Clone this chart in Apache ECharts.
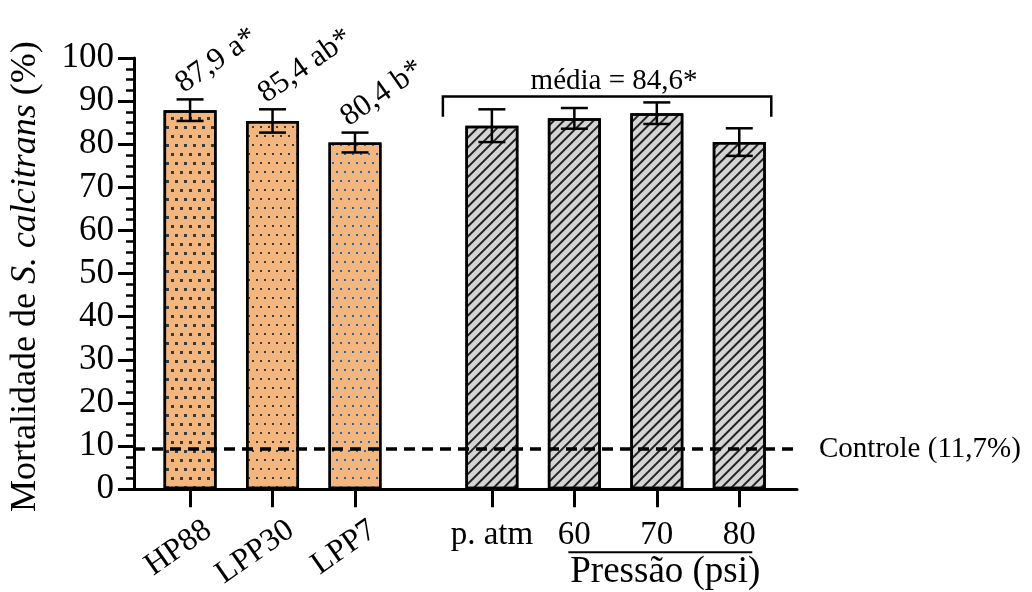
<!DOCTYPE html>
<html>
<head>
<meta charset="utf-8">
<script src="https://cdn.jsdelivr.net/npm/echarts@6/dist/echarts.min.js"></script>
<style>
  html, body { margin: 0; background: #fff; }
  #chart { width: 1032px; height: 592px; }
</style>
</head>
<body>
<div id="chart"></div>
<script>
// dados
const categories = ['HP88', 'LPP30', 'LPP7', 'p. atm', '60', '70', '80'];
const mortality = [87.9, 85.4, 80.4, 84.3, 86.0, 87.2, 80.5];
const errors = [2.5, 2.7, 2.3, 3.8, 2.4, 2.5, 3.2];
const barLabels = ['87,9 a*', '85,4 ab*', '80,4 b*'];
const controlLevel = 9.3;
const controlLabel = 'Controle (11,7%)';
const meanLabel = 'média = 84,6*';
const pressureTitle = 'Pressão (psi)';

const FONT = 'Liberation Serif';
const groupGap = 0.66;           // espaço extra entre os dois grupos
const labelShift = 0.22;          // deslocamento dos rótulos girados
const xPos = categories.map((c, i) => i + (i >= 3 ? groupGap : 0));

const orange = '#F2B67E';
const grey = '#D4D4D4';
const dots = (color, size) => ({
  symbol: 'rect', symbolSize: 1, color: color,
  dashArrayX: [[size, 8 - size], [0, 4, size, 4 - size]],
  dashArrayY: [size, 8.5 - size]
});
const hatch = {
  symbol: 'rect', symbolSize: 1, color: '#222',
  dashArrayX: [1, 0], dashArrayY: [2, 5], rotation: -Math.PI / 4
};
const barStyles = [
  { color: orange, decal: dots('#3a3a3a', 2.5) },
  { color: orange, decal: dots('#3a3a3a', 2) },
  { color: orange, decal: dots('#2f64a0', 2) },
  { color: grey, decal: hatch },
  { color: grey, decal: hatch },
  { color: grey, decal: hatch },
  { color: grey, decal: hatch }
];

const indexAt = (v, list) => list.findIndex(p => Math.abs(p - v) < 0.01);

const chart = echarts.init(document.getElementById('chart'));

const option = {
  animation: false,
  textStyle: { fontFamily: FONT },
  grid: { left: 134, right: 235, top: 58, bottom: 102 },
  xAxis: [
    {
      type: 'value', min: -0.68, max: 7.36,
      splitLine: { show: false },
      axisLine: { show: true, onZero: false, lineStyle: { color: '#000', width: 3 } },
      axisTick: { show: true, customValues: xPos, length: 18, lineStyle: { color: '#000', width: 3 } },
      axisLabel: {
        customValues: xPos.slice(0, 3).map(x => x + labelShift),
        rotate: 35, margin: 38, fontSize: 32, fontFamily: FONT, color: '#000',
        formatter: v => categories[indexAt(v, xPos.map(x => x + labelShift))] || ''
      }
    },
    {
      type: 'value', min: -0.68, max: 7.36, position: 'bottom',
      splitLine: { show: false },
      axisLine: { show: false, onZero: false },
      axisTick: { show: false },
      axisLabel: {
        customValues: xPos.slice(3),
        margin: 30, fontSize: 33, fontFamily: FONT, color: '#000',
        formatter: v => categories[indexAt(v, xPos)] || ''
      }
    }
  ],
  yAxis: {
    type: 'value', min: 0, max: 100, interval: 10,
    splitLine: { show: false },
    axisLine: { show: true, onZero: false, lineStyle: { color: '#000', width: 3 } },
    axisTick: { show: true, length: 16, lineStyle: { color: '#000', width: 3 } },
    minorTick: { show: true, splitNumber: 4, length: 8, lineStyle: { color: '#000', width: 2.5 } },
    axisLabel: { margin: 20, fontSize: 35, fontFamily: FONT, color: '#000' },
    name: 'Mortalidade de {i|S. calcitrans} (%)',
    nameLocation: 'middle', nameGap: 90,
    nameTextStyle: {
      fontSize: 36, fontFamily: FONT, color: '#000', padding: [0, 6, 0, 0],
      rich: { i: { fontSize: 36, fontFamily: FONT, fontStyle: 'italic', color: '#000' } }
    }
  },
  series: [
    {
      type: 'bar',
      barWidth: 53,
      data: xPos.map((x, i) => ({
        value: [x, mortality[i]],
        itemStyle: Object.assign({ borderColor: '#000', borderWidth: 2.5 }, barStyles[i])
      })),
      markLine: {
        silent: true, symbol: ['none', 'none'], z: 10,
        lineStyle: { color: '#000', width: 3.5, type: [11, 7] },
        label: {
          show: true, position: 'end', distance: 22, formatter: controlLabel,
          fontSize: 29, fontFamily: FONT, color: '#000'
        },
        data: [{ yAxis: controlLevel }]
      }
    },
    {
      // barras de erro
      type: 'custom',
      z: 5,
      encode: { x: 0, y: 1 },
      data: xPos.map((x, i) => [x, mortality[i], errors[i]]),
      renderItem: (params, api) => {
        const x = api.value(0), v = api.value(1), e = api.value(2);
        const hi = api.coord([x, v + e]);
        const lo = api.coord([x, v - e]);
        const cap = 13.5;
        const style = { stroke: '#000', lineWidth: 2.5 };
        return {
          type: 'group',
          children: [
            { type: 'line', shape: { x1: hi[0], y1: hi[1], x2: lo[0], y2: lo[1] }, style },
            { type: 'line', shape: { x1: hi[0] - cap, y1: hi[1], x2: hi[0] + cap, y2: hi[1] }, style },
            { type: 'line', shape: { x1: lo[0] - cap, y1: lo[1], x2: lo[0] + cap, y2: lo[1] }, style }
          ]
        };
      }
    },
    {
      // rótulos girados acima das barras
      type: 'custom',
      z: 6,
      encode: { x: 0, y: 1 },
      data: barLabels.map((t, i) => [xPos[i], mortality[i] + errors[i]]),
      renderItem: (params, api) => {
        const p = api.coord([api.value(0), api.value(1)]);
        return {
          type: 'text', x: p[0] - 2, y: p[1], rotation: 35 * Math.PI / 180,
          style: {
            text: barLabels[params.dataIndex], fontSize: 31, fontFamily: FONT,
            fill: '#000', align: 'left', verticalAlign: 'bottom'
          }
        };
      }
    },
    {
      // chave da média e título da pressão
      type: 'custom',
      z: 5,
      encode: { x: 0, y: 1 },
      data: [[xPos[3], 0]],
      renderItem: (params, api) => {
        const bracketTop = 91.1, bracketEnd = 86.4;
        const left = api.coord([xPos[3], bracketTop]);
        const right = api.coord([xPos[6], bracketTop]);
        const endY = api.coord([xPos[3], bracketEnd])[1];
        const x0 = left[0] - 49, x1 = right[0] + 32, y = left[1];
        const base = api.coord([xPos[4], 0]);
        const u0 = base[0] - 6, u1 = api.coord([xPos[6], 0])[0] + 13;
        const style = { stroke: '#000', lineWidth: 2.5, fill: null };
        return {
          type: 'group',
          children: [
            { type: 'polyline', shape: { points: [[x0, endY], [x0, y], [x1, y], [x1, endY]] }, style },
            {
              type: 'text', x: (x0 + x1) / 2 + 7, y: y,
              style: { text: meanLabel, fontSize: 29, fontFamily: FONT, fill: '#000', align: 'center', verticalAlign: 'bottom' }
            },
            { type: 'line', shape: { x1: u0, y1: base[1] + 63, x2: u1, y2: base[1] + 63 }, style: { stroke: '#000', lineWidth: 2 } },
            {
              type: 'text', x: (u0 + u1) / 2 + 5, y: base[1] + 83,
              style: { text: pressureTitle, fontSize: 37, fontFamily: FONT, fill: '#000', align: 'center', verticalAlign: 'middle' }
            }
          ]
        };
      }
    }
  ]
};

chart.setOption(option);
</script>
</body>
</html>
